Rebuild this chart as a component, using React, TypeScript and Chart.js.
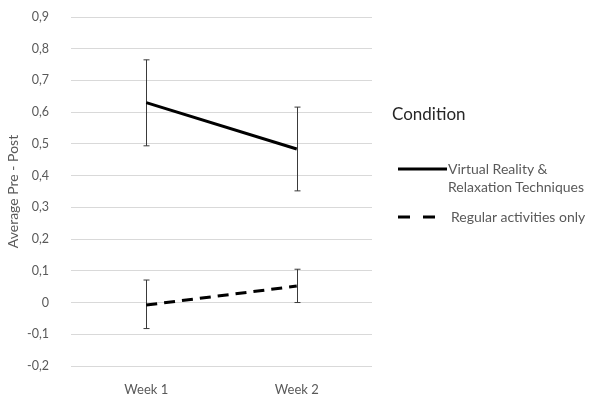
import React, { useEffect, useRef } from "react";
import { Chart, registerables } from "chart.js";

Chart.register(...registerables);

const categories = ["Week 1", "Week 2"];
const vrMeans = [0.63, 0.484];
const vrUpper = [0.765, 0.616];
const vrLower = [0.494, 0.352];
const regMeans = [-0.008, 0.052];
const regUpper = [0.071, 0.105];
const regLower = [-0.082, 0.0];
const yTicksMin = -0.2;
const yTicksMax = 0.9;
const legendTitle = "Condition";
const seriesNames = ["Virtual Reality & Relaxation Techniques", "Regular activities only"];

const FONT = "Lato, 'Open Sans', sans-serif";

const errorBarPlugin = {
  id: "errorBars",
  beforeDatasetsDraw(chart: any) {
    const ctx = chart.ctx;
    const xs = chart.scales.x;
    const ys = chart.scales.y;
    const bounds = [
      [vrUpper, vrLower],
      [regUpper, regLower],
    ];
    ctx.save();
    ctx.strokeStyle = "#3a3a3a";
    ctx.lineWidth = 1;
    bounds.forEach(([up, lo]) => {
      up.forEach((u: number, i: number) => {
        const x = Math.round(xs.getPixelForValue(i)) + 0.5;
        const yu = ys.getPixelForValue(u);
        const yl = ys.getPixelForValue(lo[i]);
        ctx.beginPath();
        ctx.moveTo(x, yu);
        ctx.lineTo(x, yl);
        ctx.moveTo(x - 3, yu);
        ctx.lineTo(x + 3, yu);
        ctx.moveTo(x - 3, yl);
        ctx.lineTo(x + 3, yl);
        ctx.stroke();
      });
    });
    ctx.restore();
  },
};

export default function App() {
  const ref = useRef<HTMLCanvasElement | null>(null);
  useEffect(() => {
    document.body.style.margin = "0";
    const chart = new Chart(ref.current as HTMLCanvasElement, {
      type: "line",
      data: {
        labels: categories,
        datasets: [
          {
            label: seriesNames[0],
            data: vrMeans,
            borderColor: "#000",
            borderWidth: 3,
            pointRadius: 0,
            fill: false,
          },
          {
            label: seriesNames[1],
            data: regMeans,
            borderColor: "#000",
            borderWidth: 3,
            borderDash: [11, 7],
            pointRadius: 0,
            fill: false,
          },
        ],
      },
      options: {
        animation: false,
        responsive: false,
        layout: { padding: { top: 17, right: 222, left: 0, bottom: 0 } },
        plugins: { legend: { display: false }, tooltip: { enabled: false } },
        scales: {
          x: {
            offset: true,
            grid: { display: false },
            border: { display: false },
            ticks: { color: "#595959", font: { family: FONT, size: 13 }, padding: 8 },
            afterFit: (s: any) => {
              s.height = 32;
            },
          },
          y: {
            min: yTicksMin,
            max: yTicksMax,
            border: { display: false },
            grid: { color: "#d9d9d9", drawTicks: false },
            ticks: {
              stepSize: 0.1,
              color: "#595959",
              font: { family: FONT, size: 12.5 },
              padding: 22,
              callback: (v: any) => {
                const n = Math.round(Number(v) * 10) / 10;
                return n === 0 ? "0" : n.toFixed(1).replace(".", ",");
              },
            },
            title: {
              display: true,
              text: "Average Pre - Post",
              color: "#595959",
              font: { family: FONT, size: 14 },
              padding: { top: 5, bottom: 0 },
            },
            afterFit: (s: any) => {
              s.width = 71;
              s.paddingTop = 0;
              s.paddingBottom = 0;
            },
          },
        },
      },
      plugins: [errorBarPlugin],
    });
    return () => chart.destroy();
  }, []);

  const textStyle: React.CSSProperties = {
    position: "absolute",
    fontFamily: FONT,
    fontSize: 14,
    color: "#595959",
    lineHeight: "18px",
    whiteSpace: "nowrap",
  };

  return (
    <div style={{ position: "fixed", left: 0, top: 0, width: 594, height: 398, background: "#fff", overflow: "hidden" }}>
      <canvas ref={ref} width={594} height={398} style={{ position: "absolute", left: 0, top: 0 }} />
      <div style={{ ...textStyle, left: 392, top: 102, fontSize: 17, color: "#262626", lineHeight: "24px" }}>{legendTitle}</div>
      <svg width={60} height={80} style={{ position: "absolute", left: 396, top: 150 }}>
        <line x1={2} y1={19} x2={51} y2={19} stroke="#000" strokeWidth={3} />
        <line x1={2} y1={67} x2={40} y2={67} stroke="#000" strokeWidth={3} strokeDasharray="12 13" />
      </svg>
      <div style={{ ...textStyle, left: 448, top: 160 }}>
        Virtual Reality &amp;
        <br />
        Relaxation Techniques
      </div>
      <div style={{ ...textStyle, left: 451, top: 208 }}>{seriesNames[1]}</div>
    </div>
  );
}
